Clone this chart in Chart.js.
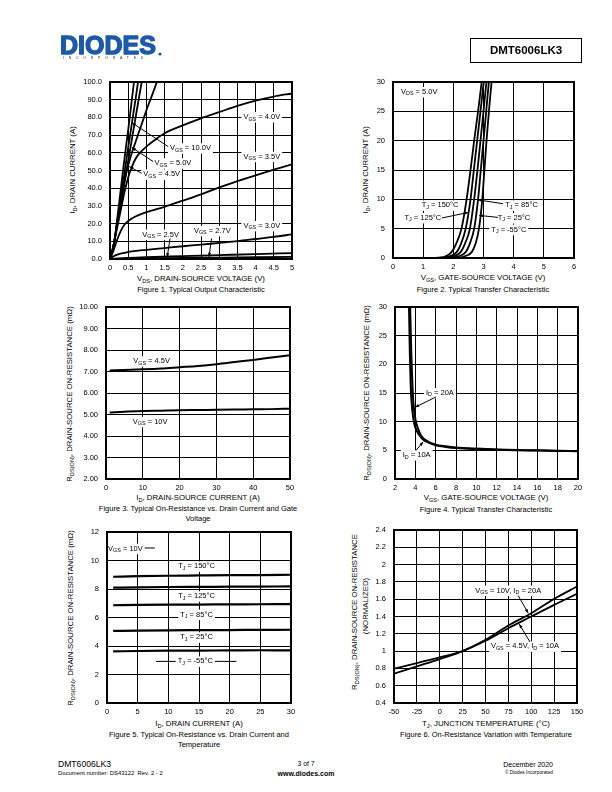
<!DOCTYPE html>
<html lang="en">
<head>
<meta charset="UTF-8">
<title>DMT6006LK3 - Typical Characteristics</title>
<script src="https://cdn.jsdelivr.net/npm/chart.js"></script>
<style>
  body { margin: 0; background: #fff; }
  #page { position: relative; width: 612px; height: 792px; overflow: hidden;
          font-family: "Liberation Sans", Arial, sans-serif; color: #000; }
  #page canvas { position: absolute; }
  .t { position: absolute; white-space: nowrap; font-size: 7.5px; line-height: 1; }
  .c { transform: translate(-50%, -50%); }
  .l { transform: translateY(-50%); }
  .rt { transform: translate(-100%, -50%); }
  .v { transform: translate(-50%, -50%) rotate(-90deg); }
  sub { font-size: 72%; vertical-align: -2px; line-height: 0; }
</style>
</head>
<body>
<div id="page">
  <!-- header -->
  <canvas id="logo" width="120" height="34" style="left:52px;top:28px;width:120px;height:34px"></canvas>
  <div class="t" style="left:63px;top:57px;font-size:3.6px;letter-spacing:4.7px;color:#333">INCORPORATED</div>
  <div class="t" style="left:470px;top:38px;width:110px;height:23px;border:1.3px solid #000;"></div>
  <div class="t c" style="left:526px;top:50.5px;font-size:11.5px;font-weight:bold">DMT6006LK3</div>

  <!-- figure 1 -->
  <div class="t v" style="left:73px;top:170px;font-size:7.8px">I<sub>D</sub>, DRAIN CURRENT (A)</div>
  <div class="t c" style="left:201px;top:279px;font-size:7.8px">V<sub>DS</sub>, DRAIN-SOURCE VOLTAGE (V)</div>
  <div class="t c" style="left:201px;top:290px">Figure 1. Typical Output Characteristic</div>

  <!-- figure 2 -->
  <div class="t v" style="left:366px;top:170px;font-size:7.8px">I<sub>D</sub>, DRAIN CURRENT (A)</div>
  <div class="t c" style="left:483px;top:278px;font-size:7.8px">V<sub>GS</sub>, GATE-SOURCE VOLTAGE (V)</div>
  <div class="t c" style="left:483px;top:290px">Figure 2. Typical Transfer Characteristic</div>

  <!-- figure 3 -->
  <div class="t v" style="left:70px;top:394px;font-size:7.8px">R<sub>DS(ON)</sub>, DRAIN-SOURCE ON-RESISTANCE (m&Omega;)</div>
  <div class="t c" style="left:198px;top:498px;font-size:7.8px">I<sub>D</sub>, DRAIN-SOURCE CURRENT (A)</div>
  <div class="t c" style="left:198px;top:509px">Figure 3. Typical On-Resistance vs. Drain Current and Gate</div>
  <div class="t c" style="left:198px;top:519px">Voltage</div>

  <!-- figure 4 -->
  <div class="t v" style="left:367px;top:393px;font-size:7.8px">R<sub>DS(ON)</sub>, DRAIN-SOURCE ON-RESISTANCE (m&Omega;)</div>
  <div class="t c" style="left:486px;top:498px;font-size:7.8px">V<sub>GS</sub>, GATE-SOURCE VOLTAGE (V)</div>
  <div class="t c" style="left:486px;top:510px">Figure 4. Typical Transfer Characteristic</div>

  <!-- figure 5 -->
  <div class="t v" style="left:71px;top:618px;font-size:7.8px">R<sub>DS(ON)</sub>, DRAIN-SOURCE ON-RESISTANCE (m&Omega;)</div>
  <div class="t c" style="left:199px;top:724px;font-size:7.8px">I<sub>D</sub>, DRAIN CURRENT (A)</div>
  <div class="t c" style="left:199px;top:735px">Figure 5. Typical On-Resistance vs. Drain Current and</div>
  <div class="t c" style="left:199px;top:745px">Temperature</div>

  <!-- figure 6 -->
  <div class="t v" style="left:355px;top:612px;font-size:7.8px">R<sub>DS(ON)</sub>, DRAIN-SOURCE ON-RESISTANCE</div>
  <div class="t v" style="left:366px;top:606px;font-size:7.8px">(NORMALIZED)</div>
  <div class="t c" style="left:486px;top:724px;font-size:7.8px">T<sub>J</sub>, JUNCTION TEMPERATURE (&deg;C)</div>
  <div class="t c" style="left:486px;top:735px">Figure 6. On-Resistance Variation with Temperature</div>

  <!-- footer -->
  <div class="t l" style="left:58px;top:764px;font-size:8.6px">DMT6006LK3</div>
  <div class="t l" style="left:58px;top:774px;font-size:5.9px">Document number: DS43122&nbsp; Rev. 2 - 2</div>
  <div class="t c" style="left:306px;top:764px;font-size:6.8px">3 of 7</div>
  <div class="t c" style="left:306px;top:773px;font-size:7px;font-weight:bold">www.diodes.com</div>
  <div class="t rt" style="left:553px;top:764px;font-size:7px">December 2020</div>
  <div class="t rt" style="left:553px;top:773px;font-size:4.8px">&copy; Diodes Incorporated</div>
</div>

<script>
// ---------------- Figure 1: typical output characteristic  [VDS (V), ID (A)]
const fig1XTicks = [0, 0.5, 1, 1.5, 2, 2.5, 3, 3.5, 4, 4.5, 5];
const fig1XLabels = ['0', '0.5', '1', '1.5', '2', '2.5', '3', '3.5', '4', '4.5', '5'];
const fig1YTicks = [0, 10, 20, 30, 40, 50, 60, 70, 80, 90, 100];
const fig1YLabels = ['0.0', '10.0', '20.0', '30.0', '40.0', '50.0', '60.0', '70.0', '80.0', '90.0', '100.0'];
const fig1Vgs10 = [[0, 0], [0.05, 3.5], [0.12, 10], [0.2, 23], [0.3, 40], [0.4, 57], [0.5, 73], [0.6, 90], [0.66, 100], [0.7, 107]];
const fig1Vgs5 = [[0, 0], [0.05, 3.5], [0.12, 10], [0.2, 21], [0.3, 35], [0.4, 49], [0.5, 63], [0.6, 76.5], [0.7, 90], [0.77, 100], [0.8, 104]];
const fig1Vgs45 = [[0, 0], [0.05, 3.5], [0.12, 10], [0.2, 19.6], [0.3, 31.6], [0.4, 43.6], [0.5, 55.6], [0.6, 67.6], [0.7, 79.6], [0.8, 91.6], [0.87, 100], [0.9, 103.6]];
const fig1Unlabelled = [[0, 0], [0.05, 3.5], [0.12, 10], [0.2, 21], [0.3, 33], [0.4, 44], [0.5, 53], [0.6, 60], [0.7, 66], [0.8, 72], [0.9, 78], [1.0, 84], [1.1, 89.5], [1.2, 95], [1.27, 99], [1.32, 101.5]];
const fig1Vgs40 = [[0, 0], [0.05, 3.5], [0.12, 10], [0.2, 18], [0.3, 28], [0.4, 38], [0.5, 46], [0.6, 52], [0.7, 56.5], [0.8, 59.5], [1.0, 63.5], [1.25, 67.5], [1.5, 71], [2.0, 75.5], [2.5, 79.5], [3.0, 83], [3.5, 86.5], [4.0, 89.5], [4.5, 91.8], [5.0, 93.5]];
const fig1Vgs35 = [[0, 0], [0.1, 5], [0.2, 11], [0.3, 16], [0.4, 19.5], [0.5, 21.5], [0.7, 24], [1.0, 26.5], [1.5, 29.5], [2.0, 33], [2.5, 36.5], [3.0, 40.5], [3.5, 44], [4.0, 47.3], [4.5, 50.5], [5.0, 53.5]];
const fig1Vgs30 = [[0, 0], [0.1, 1.5], [0.2, 2.5], [0.4, 3.5], [0.6, 4.3], [1.0, 5.2], [1.5, 6.2], [2.0, 7.2], [2.5, 8.1], [3.0, 9.1], [3.5, 10.1], [4.0, 11.3], [4.5, 12.5], [5.0, 13.9]];
const fig1Vgs27 = [[0, 0], [0.5, 0.6], [1, 1], [2, 1.6], [3, 2.2], [4, 2.8], [5, 3.3]];
const fig1Vgs25 = [[0, 0], [1, 0.4], [2, 0.6], [3, 0.8], [4, 1.0], [5, 1.2]];

// ---------------- Figure 2: typical transfer characteristic  [VGS (V), ID (A)]
const fig2XTicks = [0, 1, 2, 3, 4, 5, 6];
const fig2XLabels = ['0', '1', '2', '3', '4', '5', '6'];
const fig2YTicks = [0, 5, 10, 15, 20, 25, 30];
const fig2YLabels = ['0', '5', '10', '15', '20', '25', '30'];
const fig2Tj150 = [[0, 0], [1.0, 0], [1.5, 0.05], [1.75, 0.3], [1.94, 1], [2.1, 2.5], [2.27, 5], [2.44, 10], [2.57, 15], [2.69, 20], [2.82, 25], [2.94, 30], [2.98, 31.5]];
const fig2Tj125 = [[0, 0], [1.0, 0], [1.6, 0.05], [1.88, 0.3], [2.11, 1], [2.26, 2.5], [2.41, 5], [2.57, 10], [2.68, 15], [2.79, 20], [2.9, 25], [3.01, 30], [3.05, 31.5]];
const fig2Tj85 = [[0, 0], [1.2, 0], [1.75, 0.05], [2.02, 0.3], [2.24, 1], [2.39, 2.5], [2.55, 5], [2.69, 10], [2.8, 15], [2.9, 20], [3.0, 25], [3.1, 30], [3.14, 31.5]];
const fig2Tj25 = [[0, 0], [1.3, 0], [1.9, 0.05], [2.18, 0.3], [2.41, 1], [2.55, 2.5], [2.69, 5], [2.82, 10], [2.91, 15], [3.0, 20], [3.09, 25], [3.18, 30], [3.22, 31.5]];
const fig2TjM55 = [[0, 0], [1.5, 0], [2.1, 0.05], [2.38, 0.3], [2.61, 1], [2.74, 2.5], [2.85, 5], [2.96, 10], [3.03, 15], [3.1, 20], [3.18, 25], [3.27, 30], [3.31, 31.5]];

// ---------------- Figure 3: RDS(on) vs drain current  [ID (A), mOhm]
const fig3XTicks = [0, 10, 20, 30, 40, 50];
const fig3XLabels = ['0', '10', '20', '30', '40', '50'];
const fig3YTicks = [2, 3, 4, 5, 6, 7, 8, 9, 10];
const fig3YLabels = ['2.00', '3.00', '4.00', '5.00', '6.00', '7.00', '8.00', '9.00', '10.00'];
const fig3Id = [1, 5, 10, 15, 20, 25, 30, 35, 40, 45, 50];
const fig3Vgs45 = [7.05, 7.07, 7.1, 7.14, 7.2, 7.26, 7.34, 7.44, 7.54, 7.65, 7.76];
const fig3Vgs10 = [5.09, 5.13, 5.16, 5.18, 5.2, 5.21, 5.22, 5.23, 5.24, 5.25, 5.27];

// ---------------- Figure 4: RDS(on) vs gate voltage  [VGS (V), mOhm]
const fig4XTicks = [2, 4, 6, 8, 10, 12, 14, 16, 18, 20];
const fig4XLabels = ['2', '4', '6', '8', '10', '12', '14', '16', '18', '20'];
const fig4YTicks = [0, 5, 10, 15, 20, 25, 30];
const fig4YLabels = ['0', '5', '10', '15', '20', '25', '30'];
const fig4Id20 = [[3.47, 32], [3.5, 29], [3.6, 22], [3.7, 17], [3.8, 13.5], [4.0, 10.5], [4.3, 8.6], [4.6, 7.5], [5.0, 6.8], [6, 6.0], [7, 5.7], [8, 5.5], [10, 5.3], [12, 5.15], [14, 5.05], [16, 5.0], [18, 4.92], [20, 4.88]];
const fig4Id10 = [[3.36, 32], [3.39, 29], [3.46, 22], [3.55, 16], [3.7, 12], [3.9, 9.6], [4.2, 8.2], [4.6, 7.2], [5.0, 6.6], [6, 5.9], [7, 5.6], [8, 5.4], [10, 5.2], [12, 5.1], [14, 5.0], [16, 4.95], [18, 4.9], [20, 4.85]];

// ---------------- Figure 5: RDS(on) vs drain current and temperature  [ID (A), mOhm]
const fig5XTicks = [0, 5, 10, 15, 20, 25, 30];
const fig5XLabels = ['0', '5', '10', '15', '20', '25', '30'];
const fig5YTicks = [0, 2, 4, 6, 8, 10, 12];
const fig5YLabels = ['0', '2', '4', '6', '8', '10', '12'];
const fig5Id = [1, 5, 10, 15, 20, 25, 30];
const fig5Tj150 = [8.86, 8.9, 8.93, 8.95, 8.97, 8.98, 9.0];
const fig5Tj125 = [8.09, 8.12, 8.14, 8.15, 8.16, 8.17, 8.18];
const fig5Tj85 = [6.86, 6.88, 6.9, 6.91, 6.92, 6.93, 6.94];
const fig5Tj25 = [5.06, 5.08, 5.1, 5.11, 5.12, 5.13, 5.14];
const fig5TjM55 = [3.62, 3.65, 3.67, 3.68, 3.69, 3.7, 3.7];

// ---------------- Figure 6: normalized RDS(on) vs junction temperature
const fig6XTicks = [-50, -25, 0, 25, 50, 75, 100, 125, 150];
const fig6XLabels = ['-50', '-25', '0', '25', '50', '75', '100', '125', '150'];
const fig6YTicks = [0.4, 0.6, 0.8, 1.0, 1.2, 1.4, 1.6, 1.8, 2.0, 2.2, 2.4];
const fig6YLabels = ['0.4', '0.6', '0.8', '1', '1.2', '1.4', '1.6', '1.8', '2', '2.2', '2.4'];
const fig6Tj = [-50, -25, 0, 25, 50, 75, 100, 125, 150];
const fig6Vgs10 = [0.738, 0.823, 0.908, 1.0, 1.131, 1.296, 1.438, 1.604, 1.746];
const fig6Vgs45 = [0.796, 0.862, 0.927, 1.0, 1.119, 1.265, 1.4, 1.535, 1.662];

// ---------------------------------------------------------------- helpers
const FONT = '"Liberation Sans", Arial, sans-serif';
// canvas margin round the plot area; top covers the y tick padding Chart.js reserves
const PAD = { l: 40, t: 13, r: 16, b: 16 };
const page = document.getElementById('page');
const zip = (xs, ys) => xs.map((x, i) => [x, ys[i]]);

function richParts(s) {
  const out = [], re = /_\{([^}]*)\}/g;
  let last = 0, m;
  while ((m = re.exec(s))) {
    if (m.index > last) out.push([s.slice(last, m.index), false]);
    out.push([m[1], true]);
    last = re.lastIndex;
  }
  if (last < s.length) out.push([s.slice(last), false]);
  return out;
}
function setFont(ctx, sub) { ctx.font = (sub ? '5.4px ' : '7.5px ') + FONT; }
function richWidth(ctx, s) {
  let w = 0;
  richParts(s).forEach(([t, sub]) => { setFont(ctx, sub); w += ctx.measureText(t).width; });
  return w;
}
function richDraw(ctx, s, x, y) {
  richParts(s).forEach(([t, sub]) => {
    setFont(ctx, sub);
    ctx.fillText(t, x, sub ? y + 2 : y);
    x += ctx.measureText(t).width;
  });
}
function toPx(chart, p) {
  return [chart.scales.x.getPixelForValue(p[0]), chart.scales.y.getPixelForValue(p[1])];
}
function leader(ctx, a, b, head) {
  ctx.beginPath(); ctx.moveTo(a[0], a[1]); ctx.lineTo(b[0], b[1]); ctx.stroke();
  if (!head) return;
  const ang = Math.atan2(b[1] - a[1], b[0] - a[0]);
  ctx.beginPath();
  ctx.moveTo(b[0], b[1]);
  ctx.lineTo(b[0] - 4.5 * Math.cos(ang - 0.35), b[1] - 4.5 * Math.sin(ang - 0.35));
  ctx.lineTo(b[0] - 4.5 * Math.cos(ang + 0.35), b[1] - 4.5 * Math.sin(ang + 0.35));
  ctx.closePath(); ctx.fill();
}

// labels in the plot: white box over the grid, text and leader lines on top
function notesPlugin(notes) {
  return {
    id: 'notes',
    beforeDatasetsDraw(chart) {
      const ctx = chart.ctx;
      ctx.save();
      ctx.strokeStyle = '#000'; ctx.lineWidth = 1;
      notes.forEach(n => { if (n.rule) leader(ctx, toPx(chart, n.rule[0]), toPx(chart, n.rule[1]), false); });
      ctx.fillStyle = '#fff';
      notes.forEach(n => {
        const [x, y] = toPx(chart, n.at), w = richWidth(ctx, n.text);
        ctx.fillRect(x - w / 2 - 2, y - 5, w + 4, 10.5);
      });
      ctx.restore();
    },
    afterDatasetsDraw(chart) {
      const ctx = chart.ctx, a = chart.chartArea;
      ctx.save();
      ctx.strokeStyle = '#000'; ctx.fillStyle = '#000'; ctx.lineWidth = 1;
      notes.forEach(n => { if (n.from) leader(ctx, toPx(chart, n.from), toPx(chart, n.to), true); });
      ctx.textBaseline = 'middle';
      notes.forEach(n => {
        const [x, y] = toPx(chart, n.at), w = richWidth(ctx, n.text);
        richDraw(ctx, n.text, x - w / 2, y);
      });
      ctx.lineWidth = 2;
      ctx.strokeRect(a.left, a.top, a.right - a.left, a.bottom - a.top);
      ctx.restore();
    }
  };
}

function axis(ticks, labels, dir) {
  return {
    type: 'linear',
    min: ticks[0],
    max: ticks[ticks.length - 1],
    afterBuildTicks: s => { s.ticks = ticks.map(v => ({ value: v })); },
    afterFit: s => { if (dir === 'x') s.height = PAD.b; else s.width = PAD.l; },
    ticks: {
      autoSkip: false, maxRotation: 0, color: '#000',
      font: { family: FONT, size: 7.5 },
      padding: dir === 'x' ? 4 : 8,
      callback: (v, i) => labels[i]
    },
    grid: { color: '#000', lineWidth: 1, drawTicks: false },
    border: { display: false }
  };
}

// area = plot area on the page: [left, top, right, bottom]
function makeChart(area, x, y, series, notes) {
  const [l, t, r, b] = area;
  const w = r - l + PAD.l + PAD.r, h = b - t + PAD.t + PAD.b;
  const cv = document.createElement('canvas');
  cv.width = w; cv.height = h;
  cv.style.left = (l - PAD.l) + 'px'; cv.style.top = (t - PAD.t) + 'px';
  cv.style.width = w + 'px'; cv.style.height = h + 'px';
  page.appendChild(cv);
  new Chart(cv, {
    type: 'line',
    data: {
      datasets: series.map(s => ({
        label: s.label,
        data: s.pts.map(p => ({ x: p[0], y: p[1] })),
        borderColor: '#000',
        borderWidth: s.width || 1.8,
        pointRadius: 0,
        fill: false,
        cubicInterpolationMode: 'monotone'
      }))
    },
    options: {
      responsive: false,
      animation: false,
      events: [],
      layout: { padding: { top: PAD.t, right: PAD.r, left: 0, bottom: 0 } },
      plugins: { legend: { display: false }, tooltip: { enabled: false } },
      scales: { x: axis(x[0], x[1], 'x'), y: axis(y[0], y[1], 'y') }
    },
    plugins: [notesPlugin(notes)]
  });
}

// ---------------------------------------------------------------- charts
makeChart([110, 82, 292, 259], [fig1XTicks, fig1XLabels], [fig1YTicks, fig1YLabels], [
  { label: 'VGS = 10.0V', pts: fig1Vgs10 },
  { label: 'VGS = 5.0V', pts: fig1Vgs5 },
  { label: 'VGS = 4.5V', pts: fig1Vgs45 },
  { label: 'unlabelled', pts: fig1Unlabelled },
  { label: 'VGS = 4.0V', pts: fig1Vgs40 },
  { label: 'VGS = 3.5V', pts: fig1Vgs35 },
  { label: 'VGS = 3.0V', pts: fig1Vgs30 },
  { label: 'VGS = 2.7V', pts: fig1Vgs27 },
  { label: 'VGS = 2.5V', pts: fig1Vgs25 }
], [
  { at: [4.17, 80.2], text: 'V_{GS} = 4.0V' },
  { at: [2.21, 62.6], text: 'V_{GS} = 10.0V', from: [1.6, 63.5], to: [0.6, 77] },
  { at: [1.73, 54.1], text: 'V_{GS} = 5.0V', from: [1.19, 55], to: [0.6, 63] },
  { at: [1.42, 47.8], text: 'V_{GS} = 4.5V', from: [0.87, 48.4], to: [0.53, 52.2] },
  { at: [4.17, 57.8], text: 'V_{GS} = 3.5V' },
  { at: [4.17, 18.7], text: 'V_{GS} = 3.0V' },
  { at: [2.81, 15.9], text: 'V_{GS} = 2.7V', from: [2.79, 11.6], to: [2.72, 1.2] },
  { at: [1.39, 13.8], text: 'V_{GS} = 2.5V', from: [1.65, 11.6], to: [1.57, 0.9] }
]);

makeChart([393, 82, 574, 258], [fig2XTicks, fig2XLabels], [fig2YTicks, fig2YLabels], [
  { label: 'TJ = 150C', pts: fig2Tj150 },
  { label: 'TJ = 125C', pts: fig2Tj125 },
  { label: 'TJ = 85C', pts: fig2Tj85 },
  { label: 'TJ = 25C', pts: fig2Tj25 },
  { label: 'TJ = -55C', pts: fig2TjM55 }
], [
  { at: [0.87, 28.3], text: 'V_{DS} = 5.0V' },
  { at: [1.56, 8.97], text: 'T_{J} = 150°C' },
  { at: [4.26, 8.97], text: 'T_{J} = 85°C', from: [3.65, 9.25], to: [2.82, 9.9] },
  { at: [0.99, 6.82], text: 'T_{J} = 125°C', from: [1.62, 6.82], to: [2.5, 7.77] },
  { at: [4.01, 6.82], text: 'T_{J} = 25°C', from: [3.48, 6.92], to: [2.86, 7.26] },
  { at: [3.84, 4.82], text: 'T_{J} = -55°C' }
]);

makeChart([106, 307, 290, 479], [fig3XTicks, fig3XLabels], [fig3YTicks, fig3YLabels], [
  { label: 'VGS = 4.5V', pts: zip(fig3Id, fig3Vgs45), width: 2 },
  { label: 'VGS = 10V', pts: zip(fig3Id, fig3Vgs10), width: 2 }
], [
  { at: [12.4, 7.48], text: 'V_{GS} = 4.5V' },
  { at: [12.0, 4.66], text: 'V_{GS} = 10V' }
]);

makeChart([395, 307, 578, 479], [fig4XTicks, fig4XLabels], [fig4YTicks, fig4YLabels], [
  { label: 'ID = 20A', pts: fig4Id20, width: 2 },
  { label: 'ID = 10A', pts: fig4Id10, width: 2 }
], [
  { at: [6.42, 15.0], text: 'I_{D} = 20A', from: [6.03, 14.3], to: [3.96, 12.5] },
  { at: [4.13, 4.18], text: 'I_{D} = 10A', from: [4.06, 4.98], to: [4.78, 6.5] }
]);

makeChart([107, 532, 291, 703], [fig5XTicks, fig5XLabels], [fig5YTicks, fig5YLabels], [
  { label: 'TJ = 150C', pts: zip(fig5Id, fig5Tj150), width: 2.2 },
  { label: 'TJ = 125C', pts: zip(fig5Id, fig5Tj125), width: 2.2 },
  { label: 'TJ = 85C', pts: zip(fig5Id, fig5Tj85), width: 2.2 },
  { label: 'TJ = 25C', pts: zip(fig5Id, fig5Tj25), width: 2.2 },
  { label: 'TJ = -55C', pts: zip(fig5Id, fig5TjM55), width: 2.2 }
], [
  { at: [3.0, 10.83], text: 'V_{GS} = 10V', rule: [[5.0, 10.88], [7.8, 10.88]] },
  { at: [14.6, 9.59], text: 'T_{J} = 150°C' },
  { at: [14.6, 7.49], text: 'T_{J} = 125°C' },
  { at: [14.6, 6.2], text: 'T_{J} = 85°C' },
  { at: [14.6, 4.61], text: 'T_{J} = 25°C' },
  { at: [14.4, 2.92], text: 'T_{J} = -55°C', rule: [[8.0, 2.92], [21.1, 2.92]] }
]);

makeChart([394, 530, 577, 703], [fig6XTicks, fig6XLabels], [fig6YTicks, fig6YLabels], [
  { label: 'VGS = 10V, ID = 20A', pts: zip(fig6Tj, fig6Vgs10), width: 1.8 },
  { label: 'VGS = 4.5V, ID = 10A', pts: zip(fig6Tj, fig6Vgs45), width: 1.8 }
], [
  { at: [74.8, 1.70], text: 'V_{GS} = 10V, I_{D} = 20A', from: [85.7, 1.642], to: [96.7, 1.439] },
  { at: [93.1, 1.054], text: 'V_{GS} = 4.5V, I_{D} = 10A', from: [98.6, 1.106], to: [86.8, 1.313] }
]);

// ---------------------------------------------------------------- logo
const lg = document.getElementById('logo').getContext('2d');
lg.fillStyle = '#1d5aa6';
lg.strokeStyle = '#1d5aa6';
lg.lineWidth = 1.4;
lg.lineJoin = 'round';
lg.font = 'bold 25px ' + FONT;
lg.textBaseline = 'alphabetic';
lg.fillText('DIODES', 8, 26, 97);
lg.strokeText('DIODES', 8, 26, 97);
lg.beginPath(); lg.arc(108, 26, 1.6, 0, Math.PI * 2); lg.fill();
</script>
</body>
</html>
